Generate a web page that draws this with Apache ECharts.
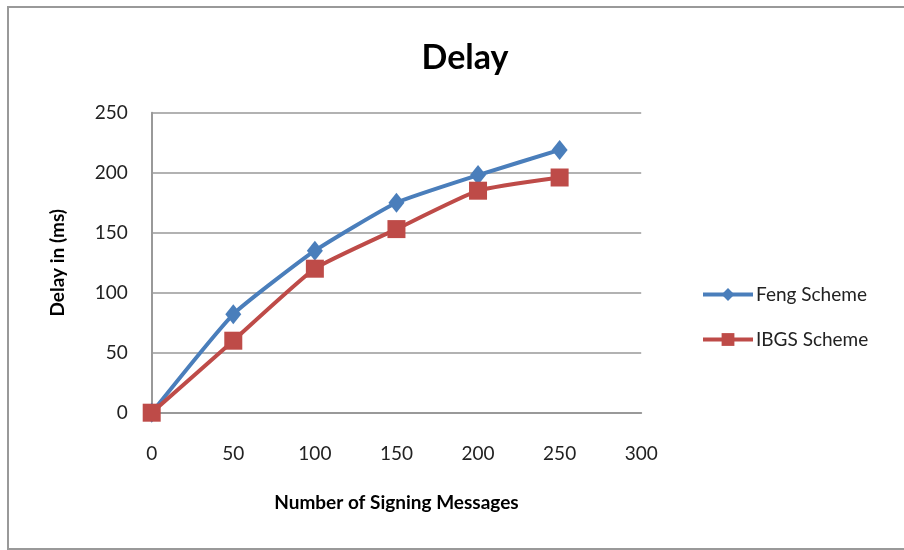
<!DOCTYPE html>
<html><head><meta charset="utf-8">
<script src="https://cdn.jsdelivr.net/npm/echarts@6/dist/echarts.min.js"></script>
<style>html,body{margin:0;padding:0;background:#fff}#c{width:904px;height:550px}</style>
</head><body><div id="c"></div>
<script>
const xValues = [0, 50, 100, 150, 200, 250];
const fengValues = [0, 82, 135, 175, 198, 219];
const ibgsValues = [0, 60, 120, 153, 185, 196];
const yTicks = [0, 50, 100, 150, 200, 250];
const xTicks = [0, 50, 100, 150, 200, 250, 300];

const chart = echarts.init(document.getElementById('c'));
const font = 'Lato, "Open Sans", sans-serif';
chart.setOption({
  backgroundColor: '#fff',
  animation: false,
  graphic: [{type:'rect', shape:{x:8, y:7, width:910, height:542}, style:{fill:'none', stroke:'#999', lineWidth:2}, silent:true}],
  title: {text:'Delay', left:460, top:36, textAlign:'center', textStyle:{fontFamily:font, fontSize:34, fontWeight:'bold', color:'#000'}},
  legend: {orient:'vertical', left:696, top:280, itemGap:26, itemWidth:50, itemHeight:16,
    lineStyle:{width:4},
    textStyle:{fontFamily:font, fontSize:19, color:'#222', padding:[0,0,0,-2]},
    data:['Feng Scheme','IBGS Scheme']},
  grid: {left:151.7, top:112.7, width:489.5, height:300, containLabel:false},
  xAxis: {type:'value', min:0, max:300, interval:50,
    name:'Number of Signing Messages', nameLocation:'middle', nameGap:81,
    nameTextStyle:{fontFamily:font, fontSize:19, fontWeight:'bold', color:'#000'},
    axisLine:{lineStyle:{color:'#999', width:2}}, axisTick:{show:false},
    axisLabel:{fontFamily:font, fontSize:19, color:'#222', margin:32,
      formatter:v=>xTicks.includes(v)?String(v):''},
    splitLine:{show:false}},
  yAxis: {type:'value', min:0, max:250, interval:50,
    name:'Delay in (ms)', nameLocation:'middle', nameGap:84, nameRotate:90,
    nameTextStyle:{fontFamily:font, fontSize:19, fontWeight:'bold', color:'#000'},
    axisLine:{show:true, lineStyle:{color:'#999', width:2}}, axisTick:{show:false},
    axisLabel:{fontFamily:font, fontSize:19, color:'#222', margin:24,
      formatter:v=>yTicks.includes(v)?String(v):''},
    splitLine:{lineStyle:{color:'#999', width:1.5}}},
  series: [
    {name:'Feng Scheme', type:'line', smooth:0.15, data:xValues.map((x,i)=>[x,fengValues[i]]),
      symbol:'diamond', symbolSize:[16,20], lineStyle:{color:'#4a7ebb', width:4},
      itemStyle:{color:'#4a7ebb'}, z:2},
    {name:'IBGS Scheme', type:'line', smooth:0.15, data:xValues.map((x,i)=>[x,ibgsValues[i]]),
      symbol:'rect', symbolSize:18, lineStyle:{color:'#be4b48', width:4},
      itemStyle:{color:'#be4b48'}, z:3}
  ]
});
</script></body></html>
